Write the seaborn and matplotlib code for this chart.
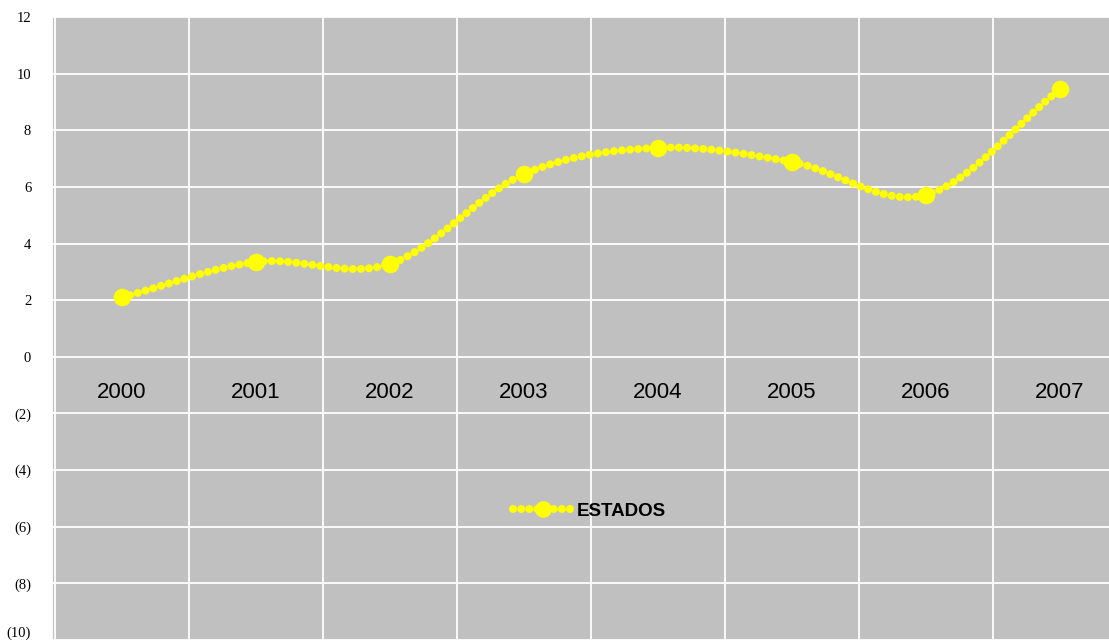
import numpy as np
import pandas as pd
import matplotlib
matplotlib.use("Agg")
import matplotlib.pyplot as plt
from matplotlib.lines import Line2D
from matplotlib.transforms import offset_copy
import seaborn as sns

# Series data
years = ["2000", "2001", "2002", "2003", "2004", "2005", "2006", "2007"]
estados = [2.1, 3.35, 3.28, 6.45, 7.38, 6.88, 5.72, 9.45]
y_ticks = [12, 10, 8, 6, 4, 2, 0, -2, -4, -6, -8, -10]
series_name = "ESTADOS"

sns.set_theme(style="white")
plt.rcParams["font.family"] = ["Liberation Sans", "DejaVu Sans"]

fig = plt.figure(figsize=(11.09, 6.42), dpi=100)
W, H = 1109, 642
ax = fig.add_axes([52 / W, 1 - 640 / H, (1127 - 52) / W, (640 - 17) / H])
ax.set_facecolor("#C0C0C0")

x = np.arange(len(years), dtype=float)
y = np.array(estados, dtype=float)


def catmull_rom(xs, ys, n=40):
    """Smooth curve through the points (uniform Catmull-Rom spline)."""
    px = np.concatenate([[2 * xs[0] - xs[1]], xs, [2 * xs[-1] - xs[-2]]])
    py = np.concatenate([[2 * ys[0] - ys[1]], ys, [2 * ys[-1] - ys[-2]]])
    out_x, out_y = [], []
    t = np.linspace(0, 1, n, endpoint=False)
    for i in range(1, len(px) - 2):
        for arr, out in ((px, out_x), (py, out_y)):
            p0, p1, p2, p3 = arr[i - 1], arr[i], arr[i + 1], arr[i + 2]
            out.extend(0.5 * ((2 * p1) + (-p0 + p2) * t
                              + (2 * p0 - 5 * p1 + 4 * p2 - p3) * t ** 2
                              + (-p0 + 3 * p1 - 3 * p2 + p3) * t ** 3))
    out_x.append(xs[-1])
    out_y.append(ys[-1])
    return np.array(out_x), np.array(out_y)


sx, sy = catmull_rom(x, y)
curve = pd.DataFrame({"x": sx, "y": sy})
points = pd.DataFrame({"x": x, "y": y})

dot_style = dict(color="#FFFF00", linewidth=5.8, dash_capstyle="round",
                 linestyle=(0, (0.01, 1.0)))
sns.lineplot(data=curve, x="x", y="y", ax=ax, sort=False, estimator=None,
             zorder=3, **dot_style)
sns.scatterplot(data=points, x="x", y="y", ax=ax, s=160, color="#FFFF00",
                edgecolor="#FFFF00", linewidth=0, zorder=4)

# Axis ranges and grid
ax.set_xlim(-0.5 - 3 / 134, len(years) - 0.5)
ax.set_ylim(-10, 12)
ax.set_xticks(np.arange(-0.5, len(years), 1.0))
ax.set_xticklabels([])
ax.set_yticks(y_ticks)
ax.set_yticklabels([str(v) if v >= 0 else f"({abs(v)})" for v in y_ticks],
                   family=["Liberation Serif", "DejaVu Serif"], fontsize=10.5,
                   color="black")
ax.tick_params(axis="both", length=0, pad=15)
# keep the lowest label inside the canvas
low = ax.get_yticklabels()[-1]
low.set_transform(offset_copy(low.get_transform(), fig=fig, x=0, y=6, units="points"))
ax.grid(True, color="white", linewidth=1.3)
ax.set_axisbelow(True)
ax.set_xlabel("")
ax.set_ylabel("")
for side in ["top", "right", "bottom"]:
    ax.spines[side].set_visible(False)
ax.spines["left"].set_color("white")
ax.spines["left"].set_linewidth(1.3)

# Category labels drawn inside the plot just below zero
for xi, lab in zip(x, years):
    ax.text(xi, -1.25, lab, ha="center", va="center", fontsize=16,
            color="black")

# Legend
handle = Line2D([0], [0], marker="o", markersize=11, markerfacecolor="#FFFF00",
                markeredgecolor="#FFFF00", **dot_style)
leg = ax.legend([handle], [series_name], loc="center", bbox_to_anchor=(0.5, 0.207),
                frameon=False, handlelength=3.2, handletextpad=0.2,
                prop={"size": 13.5, "weight": "bold"})
for t in leg.get_texts():
    t.set_color("black")

fig.savefig("out.png", dpi=100, facecolor="white")
